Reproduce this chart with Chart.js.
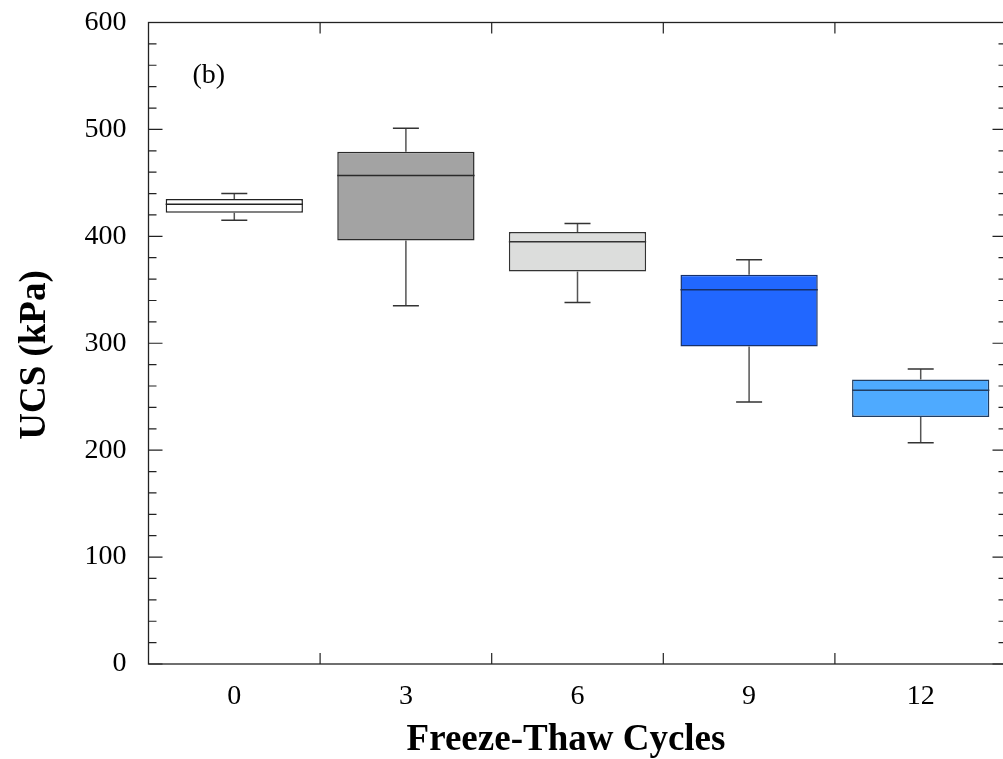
<!DOCTYPE html>
<html>
<head>
<meta charset="utf-8">
<title>UCS vs Freeze-Thaw Cycles</title>
<script src="https://cdn.jsdelivr.net/npm/chart.js@4.4.1/dist/chart.umd.min.js"></script>
<style>
    html, body { margin: 0; padding: 0; background: #ffffff; overflow: hidden; }
    #wrap { width: 1003px; height: 759px; overflow: hidden; }
    canvas { display: block; }
</style>
</head>
<body>
<div id="wrap"><canvas id="ucsChart" width="1010" height="759"></canvas></div>
<script>
// box plot statistics per freeze-thaw cycle count (kPa)
const cycles = ['0', '3', '6', '9', '12'];
const whiskerLow = [415, 335, 338, 245, 207];
const quartileLow = [422, 396, 367, 297, 231];
const medians = [430, 457, 395, 350, 256];
const quartileHigh = [435, 479, 404, 364, 266];
const whiskerHigh = [440, 501, 412, 378, 276];

const boxFills = ['#ffffff', '#a3a3a3', '#dcdddc', '#2167ff', '#4eaaff'];
const boxEdges = ['#222222', '#2a2a2a', '#333333', '#16306a', '#203d62'];

const serif = "'Liberation Serif', 'Times New Roman', serif";

// medians and whiskers on top of the floating bars
const boxDetails = {
    id: 'boxDetails',
    afterDatasetsDraw(chart) {
        const ctx = chart.ctx;
        const y = chart.scales.y;
        const bars = chart.getDatasetMeta(0).data;
        ctx.save();
        bars.forEach((bar, i) => {
            const half = bar.width / 2;
            const cap = 13;
            // whiskers
            ctx.strokeStyle = '#555555';
            ctx.lineWidth = 1.5;
            ctx.beginPath();
            ctx.moveTo(bar.x, y.getPixelForValue(quartileHigh[i]));
            ctx.lineTo(bar.x, y.getPixelForValue(whiskerHigh[i]));
            ctx.moveTo(bar.x, y.getPixelForValue(quartileLow[i]));
            ctx.lineTo(bar.x, y.getPixelForValue(whiskerLow[i]));
            ctx.stroke();
            ctx.strokeStyle = '#333333';
            ctx.beginPath();
            ctx.moveTo(bar.x - cap, y.getPixelForValue(whiskerHigh[i]));
            ctx.lineTo(bar.x + cap, y.getPixelForValue(whiskerHigh[i]));
            ctx.moveTo(bar.x - cap, y.getPixelForValue(whiskerLow[i]));
            ctx.lineTo(bar.x + cap, y.getPixelForValue(whiskerLow[i]));
            ctx.stroke();
            // median
            ctx.strokeStyle = boxEdges[i];
            ctx.lineWidth = 1.5;
            ctx.beginPath();
            ctx.moveTo(bar.x - half, y.getPixelForValue(medians[i]));
            ctx.lineTo(bar.x + half, y.getPixelForValue(medians[i]));
            ctx.stroke();
        });
        ctx.restore();
    }
};

// closed frame with inward ticks, panel tag and axis titles
const frame = {
    id: 'frame',
    afterDraw(chart) {
        const ctx = chart.ctx;
        const a = chart.chartArea;
        const x = chart.scales.x;
        const y = chart.scales.y;
        ctx.save();
        ctx.strokeStyle = '#222222';
        ctx.lineWidth = 1.3;
        ctx.strokeRect(a.left, a.top, a.right - a.left, a.bottom - a.top);

        ctx.lineWidth = 1.2;
        ctx.beginPath();
        for (let v = y.min; v <= y.max; v += 20) {
            const py = y.getPixelForValue(v);
            const len = v % 100 === 0 ? 14 : 8;
            ctx.moveTo(a.left, py);
            ctx.lineTo(a.left + len, py);
            ctx.moveTo(a.right, py);
            ctx.lineTo(a.right - len, py);
        }
        const step = x.getPixelForValue(1) - x.getPixelForValue(0);
        for (let i = 0; i < cycles.length; i++) {
            const px = x.getPixelForValue(i) + step / 2;
            ctx.moveTo(px, a.bottom);
            ctx.lineTo(px, a.bottom - 11);
            ctx.moveTo(px, a.top);
            ctx.lineTo(px, a.top + 11);
        }
        ctx.stroke();

        ctx.fillStyle = '#000000';
        ctx.font = '28px ' + serif;
        ctx.textAlign = 'left';
        ctx.textBaseline = 'middle';
        ctx.fillText('(b)', a.left + 44, a.top + 53);

        ctx.font = 'bold 37px ' + serif;
        ctx.textAlign = 'center';
        ctx.textBaseline = 'alphabetic';
        ctx.fillText('Freeze-Thaw Cycles', 566, 750);

        ctx.translate(45, 355);
        ctx.rotate(-Math.PI / 2);
        ctx.fillText('UCS (kPa)', 0, 0);
        ctx.restore();
    }
};

const ctx = document.getElementById('ucsChart').getContext('2d');
new Chart(ctx, {
    type: 'bar',
    data: {
        labels: cycles,
        datasets: [{
            data: quartileLow.map((lo, i) => [lo, quartileHigh[i]]),
            backgroundColor: boxFills,
            borderColor: boxEdges,
            borderWidth: 1.5,
            borderSkipped: false,
            categoryPercentage: 1.0,
            barPercentage: 0.8
        }]
    },
    options: {
        responsive: false,
        animation: false,
        layout: { padding: { top: 22.5, right: 3.5, left: 0, bottom: 0 } },
        plugins: {
            legend: { display: false },
            tooltip: { enabled: false }
        },
        scales: {
            x: {
                grid: { display: false, drawTicks: false, tickLength: 0 },
                border: { display: false },
                ticks: {
                    color: '#000000',
                    padding: 16,
                    font: { family: serif, size: 28 }
                },
                afterFit(scale) {
                    scale.height = 95;
                    scale.paddingLeft = 0;
                    scale.paddingRight = 0;
                }
            },
            y: {
                min: 0,
                max: 600,
                grid: { display: false, drawTicks: false, tickLength: 0 },
                border: { display: false },
                ticks: {
                    stepSize: 100,
                    color: '#000000',
                    padding: 22,
                    font: { family: serif, size: 28 }
                },
                afterFit(scale) {
                    scale.width = 148.5;
                    scale.paddingTop = 0;
                    scale.paddingBottom = 0;
                }
            }
        }
    },
    plugins: [boxDetails, frame]
});
</script>
</body>
</html>
